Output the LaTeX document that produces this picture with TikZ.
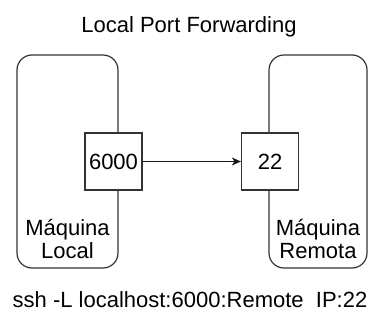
\documentclass[tikz,border=0pt]{standalone}
\usepackage{fontspec}
\setmainfont{Liberation Sans}
\usetikzlibrary{arrows.meta}
\begin{document}
\begin{tikzpicture}[x=1pt,y=-1pt,
  every node/.style={font=\fontsize{22}{23}\selectfont, inner sep=0pt},
  machine/.style={draw=black!80, line width=1.2pt, rounded corners=15pt},
  port/.style={draw=black!80, line width=1.2pt, fill=white, minimum width=57pt, minimum height=57pt},
  link/.style={draw=black!90, line width=1.2pt, -{Stealth[length=9pt,width=8pt,inset=2.5pt]}}]
  \useasboundingbox (0,0) rectangle (369,323);

  % title
  \node[anchor=base] (title) at (189,33) {Local Port Forwarding};

  % the two machines
  \draw[machine] (17,55) rectangle (118,268);
  \draw[machine] (269,55) rectangle (367,268);
  \node[align=center, anchor=south] (loc) at (67.5,259) {Máquina\\Local};
  \node[align=center, anchor=south] (rem) at (318,259) {Máquina\\Remota};

  % ports
  \node[port] (p6000) at (113.5,161.5) {6000};
  \node[port] (p22) at (270,161.5) {22};
  \draw[link] (p6000) -- (p22);

  % command
  \node[anchor=base] (cmd) at (190,307) {ssh -L localhost:6000:Remote\ \ IP:22};
\end{tikzpicture}
\end{document}
